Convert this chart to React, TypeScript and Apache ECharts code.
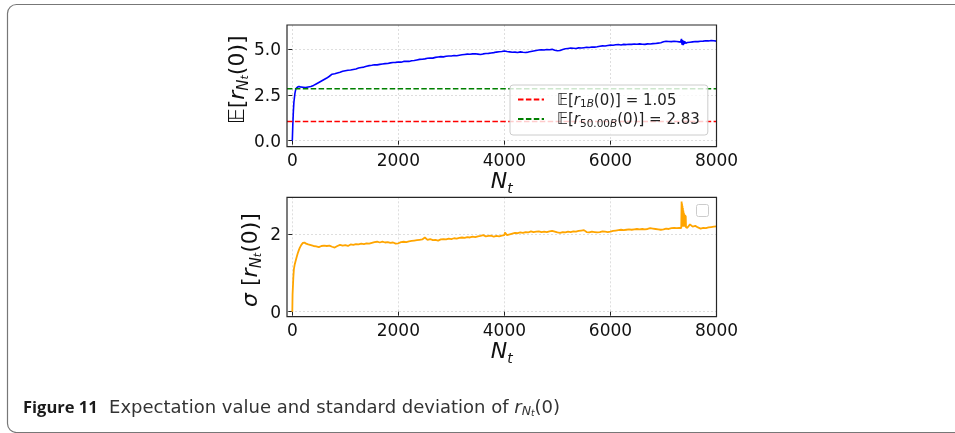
import React, { useEffect, useRef } from 'react';
import * as echarts from 'echarts';

// ---- data ----
const expN = [0, 10, 20, 30, 50, 65, 80, 100, 125, 150, 200, 250, 300,
  350, 400, 450, 500, 550, 600, 650, 700, 750, 800, 850, 900, 950, 1000,
  1050, 1100, 1150, 1200, 1250, 1300, 1350, 1400, 1450, 1500, 1550, 1600, 1650, 1700, 1750, 1800, 1850, 1900, 1950, 2000,
  2050, 2100, 2150, 2200, 2250, 2300, 2350, 2400, 2450, 2500, 2550, 2600, 2650, 2700, 2750, 2800, 2850, 2900, 2950, 3000,
  3050, 3100, 3150, 3200, 3250, 3300, 3350, 3400, 3450, 3500, 3550, 3600, 3650, 3700, 3750, 3800, 3850, 3900, 3950, 4000,
  4050, 4100, 4150, 4200, 4250, 4300, 4350, 4400, 4450, 4500, 4550, 4600, 4650, 4700, 4750, 4800, 4850, 4900, 4950, 5000,
  5050, 5100, 5150, 5200, 5250, 5300, 5350, 5400, 5450, 5500, 5550, 5600, 5650, 5700, 5750, 5800, 5850, 5900, 5950, 6000,
  6050, 6100, 6150, 6200, 6250, 6300, 6350, 6400, 6450, 6500, 6550, 6600, 6650, 6700, 6750, 6800, 6850, 6900, 6950, 7000,
  7050, 7100, 7150, 7200, 7250, 7300, 7320, 7340, 7350, 7360, 7370, 7380, 7390, 7400, 7420, 7450, 7500,
  7550, 7600, 7650, 7700, 7750, 7800, 7850, 7900, 7950, 8000];
const expVal = [0.0, 0.9, 1.6, 2.1, 2.6, 2.8, 2.88, 2.93, 2.96, 2.94, 2.92, 2.9, 2.93,
  2.96, 3.02, 3.10, 3.18, 3.26, 3.34, 3.42, 3.52, 3.63, 3.66, 3.70, 3.74, 3.79, 3.82,
  3.85, 3.86, 3.89, 3.92, 3.97, 4.00, 4.02, 4.07, 4.10, 4.12, 4.15, 4.14, 4.17, 4.19, 4.21, 4.22, 4.25, 4.27, 4.28, 4.30,
  4.29, 4.33, 4.34, 4.33, 4.37, 4.38, 4.41, 4.44, 4.45, 4.47, 4.50, 4.52, 4.51, 4.55, 4.57, 4.59, 4.58, 4.61, 4.63, 4.63,
  4.65, 4.64, 4.67, 4.69, 4.71, 4.73, 4.72, 4.74, 4.75, 4.73, 4.71, 4.74, 4.76, 4.77, 4.79, 4.81, 4.84, 4.86, 4.87, 4.90,
  4.87, 4.85, 4.83, 4.84, 4.82, 4.85, 4.83, 4.82, 4.84, 4.87, 4.90, 4.93, 4.95, 4.97, 4.95, 4.98, 4.97, 4.99, 4.94, 4.91,
  4.93, 4.98, 5.02, 5.04, 5.06, 5.05, 5.04, 5.07, 5.06, 5.08, 5.10, 5.09, 5.12, 5.11, 5.13, 5.16, 5.18, 5.17, 5.20, 5.22,
  5.21, 5.24, 5.25, 5.23, 5.26, 5.25, 5.27, 5.26, 5.28, 5.27, 5.29, 5.27, 5.26, 5.29, 5.28, 5.30, 5.31, 5.33, 5.35, 5.40,
  5.43, 5.42, 5.41, 5.43, 5.42, 5.40, 5.38, 5.56, 5.25, 5.50, 5.22, 5.45, 5.28, 5.42, 5.32, 5.36, 5.38,
  5.40, 5.42, 5.41, 5.43, 5.44, 5.46, 5.45, 5.47, 5.46, 5.44];

const sdN = [0, 5, 10, 20, 30, 45, 60, 80, 100, 120, 140, 170, 200, 230, 260, 300,
  350, 400, 450, 500, 550, 600, 650, 700, 750, 800, 850, 900, 950, 1000,
  1050, 1100, 1150, 1200, 1250, 1300, 1350, 1400, 1450, 1500, 1550, 1600, 1650, 1700, 1750, 1800, 1850, 1900, 1950, 2000,
  2050, 2100, 2150, 2200, 2250, 2300, 2350, 2400, 2450, 2500, 2550, 2600, 2650, 2700, 2750, 2800, 2850, 2900, 2950, 3000,
  3050, 3100, 3150, 3200, 3250, 3300, 3350, 3400, 3450, 3500, 3550, 3600, 3650, 3700, 3750, 3800, 3850, 3900, 3950, 4000,
  4010, 4050, 4100, 4150, 4200, 4250, 4300, 4350, 4400, 4450, 4500, 4550, 4600, 4650, 4700, 4750, 4800, 4850, 4900, 4950, 5000,
  5050, 5100, 5150, 5200, 5250, 5300, 5350, 5400, 5450, 5500, 5550, 5600, 5650, 5700, 5750, 5800, 5850, 5900, 5950, 6000,
  6050, 6100, 6150, 6200, 6250, 6300, 6350, 6400, 6450, 6500, 6550, 6600, 6650, 6700, 6750, 6800, 6850, 6900, 6950, 7000,
  7050, 7100, 7150, 7200, 7250, 7300, 7335, 7342, 7346, 7350, 7354, 7358, 7362, 7366, 7370, 7375, 7380, 7385, 7390, 7395,
  7400, 7405, 7410, 7415, 7420, 7425, 7450, 7500, 7550, 7600, 7650, 7700, 7750, 7800, 7850, 7900, 7950, 8000];
const sdVal = [0.0, 0.45, 0.6, 0.9, 1.1, 1.22, 1.3, 1.4, 1.5, 1.58, 1.65, 1.73, 1.78, 1.79, 1.76, 1.74,
  1.72, 1.70, 1.69, 1.67, 1.70, 1.71, 1.70, 1.71, 1.68, 1.66, 1.70, 1.73, 1.71, 1.72,
  1.70, 1.74, 1.73, 1.75, 1.74, 1.76, 1.75, 1.77, 1.76, 1.78, 1.80, 1.81, 1.79, 1.81, 1.79, 1.80, 1.78, 1.79, 1.76, 1.77,
  1.80, 1.81, 1.80, 1.82, 1.83, 1.84, 1.85, 1.86, 1.87, 1.92, 1.86, 1.88, 1.85, 1.86, 1.84, 1.87, 1.88, 1.87, 1.89, 1.88,
  1.90, 1.89, 1.91, 1.92, 1.91, 1.93, 1.92, 1.94, 1.93, 1.95, 1.96, 1.98, 1.95, 1.96, 1.97, 1.94, 1.96, 1.95, 1.97, 1.98,
  2.05, 1.98, 2.00, 2.02, 2.04, 2.03, 2.05, 2.04, 2.06, 2.05, 2.08, 2.06, 2.07, 2.08, 2.06, 2.07, 2.06, 2.08, 2.09, 2.07, 2.05,
  2.04, 2.06, 2.05, 2.07, 2.06, 2.08, 2.07, 2.09, 2.10, 2.11, 2.06, 2.05, 2.07, 2.06, 2.05, 2.06, 2.08, 2.07, 2.06, 2.07,
  2.09, 2.10, 2.11, 2.12, 2.11, 2.12, 2.13, 2.12, 2.13, 2.14, 2.13, 2.14, 2.13, 2.14, 2.16, 2.15, 2.14, 2.13, 2.12, 2.13,
  2.15, 2.14, 2.16, 2.17, 2.16, 2.17, 2.16, 2.85, 2.2, 2.80, 2.2, 2.74, 2.2, 2.68, 2.2, 2.62, 2.2, 2.56, 2.2, 2.52,
  2.2, 2.50, 2.22, 2.48, 2.46, 2.18, 2.17, 2.26, 2.20, 2.22, 2.18, 2.15, 2.17, 2.16, 2.18, 2.19, 2.20, 2.21];

const refLevels = [1.05, 2.83];
const refNames = ['r1B', 'r50B'];
const refLabels = ['1.05', '2.83'];
const refSubs = [['1', 'B'], ['50.00', 'B']];
const xTicks = [0, 2000, 4000, 6000, 8000];
const xGridTicks = [0, 2000, 4000, 6000];
const yTicksTop = [0, 2.5, 5];
const yTicksBottom = [0, 2];
const xRange = [-100, 8000];
const yRangeTop = [-0.33, 6.32];
const yRangeBottom = [-0.13, 2.96];

const F = 'DejaVu Sans';

const nameRich = {
  n: { fontSize: 22, fontFamily: F, lineHeight: 28, color: '#111' },
  i: { fontSize: 22, fontFamily: F, fontStyle: 'italic', lineHeight: 28, color: '#111' },
  s: { fontSize: 15, fontFamily: F, fontStyle: 'italic', lineHeight: 15, verticalAlign: 'bottom', color: '#111' },
  ss: { fontSize: 11, fontFamily: F, fontStyle: 'italic', lineHeight: 11, verticalAlign: 'bottom', color: '#111' },
};

const GRIDS = [
  { left: 287, top: 25, width: 429.5, height: 121.7 },
  { left: 287, top: 197.3, width: 429.5, height: 119.4 },
];

export default function App() {
  const ref = useRef<HTMLDivElement>(null);
  useEffect(() => {
    const chart = echarts.init(ref.current!, null, { renderer: 'svg' });
    const gridLine = { show: true, lineStyle: { color: '#d6d6d6', width: 0.8, type: [2, 2] as any } };
    const xAxisBase = (gridIndex: number) => ({
      type: 'value', gridIndex, min: xRange[0], max: xRange[1],
      axisLine: { show: false },
      axisTick: { show: true, customValues: xTicks, length: 4, lineStyle: { color: '#222', width: 1 } },
      axisLabel: { customValues: xTicks, fontSize: 17, fontFamily: F, color: '#111', margin: 5, formatter: (v: number) => String(v) },
      splitLine: { ...gridLine, customValues: xGridTicks },
      name: '{i|N}{ss|t}', nameLocation: 'middle', nameGap: 18,
      nameTextStyle: { rich: { i: nameRich.i, ss: { ...nameRich.s, fontSize: 14, lineHeight: 14 } } },
    });
    const yAxisBase = (gridIndex: number, range: number[], ticks: number[], fmt: (v: number) => string) => ({
      type: 'value', gridIndex, min: range[0], max: range[1],
      axisLine: { show: false },
      axisTick: { show: true, customValues: ticks, length: 4, lineStyle: { color: '#222', width: 1 } },
      axisLabel: { customValues: ticks, fontSize: 17, fontFamily: F, color: '#111', margin: 6, formatter: fmt },
      splitLine: { ...gridLine, customValues: ticks },
      nameLocation: 'middle',
    });
    const legendRich = {
      n: { fontSize: 15, fontFamily: F, lineHeight: 18, color: '#222' },
      i: { fontSize: 15, fontFamily: F, fontStyle: 'italic', lineHeight: 18, color: '#222' },
      s: { fontSize: 10.5, fontFamily: F, lineHeight: 10, verticalAlign: 'bottom', color: '#222' },
      si: { fontSize: 10.5, fontFamily: F, fontStyle: 'italic', lineHeight: 10, verticalAlign: 'bottom', color: '#222' },
    };
    const CF = 'DejaVu Sans';
    const option: any = {
      animation: false,
      grid: GRIDS.map((g) => ({ ...g, show: false })),
      xAxis: [xAxisBase(0), xAxisBase(1)],
      yAxis: [
        {
          ...yAxisBase(0, yRangeTop, yTicksTop, (v: number) => v.toFixed(1)),
          name: '{n|𝔼[}{i|r}{s|N}{ss|t}{n|(0)]}', nameGap: 34,
          nameTextStyle: { rich: nameRich, padding: [0, 0, 0, 12] },
        },
        {
          ...yAxisBase(1, yRangeBottom, yTicksBottom, (v: number) => String(v)),
          name: '{i|σ}{n| [}{i|r}{s|N}{ss|t}{n|(0)]}', nameGap: 24,
          nameTextStyle: { rich: nameRich, padding: [0, 6, 0, 0] },
        },
      ],
      legend: {
        data: refNames,
        left: 510, top: 85, orient: 'vertical',
        padding: [7, 8, 7, 7], itemGap: 3, itemWidth: 26, itemHeight: 14,
        backgroundColor: 'rgba(255,255,255,0.8)', borderColor: '#cccccc', borderWidth: 1, borderRadius: 3,
        itemStyle: { opacity: 0 },
        textStyle: { rich: legendRich, padding: [0, 0, 0, 8] },
        formatter: (name: string) => {
          const k = refNames.indexOf(name);
          return `{n|𝔼[}{i|r}{s|${refSubs[k][0]}}{si|${refSubs[k][1]}}{n|(0)] = ${refLabels[k]}}`;
        },
      },
      series: [
        {
          type: 'line', xAxisIndex: 0, yAxisIndex: 0, showSymbol: false, symbol: 'none',
          data: expN.map((n, i) => [n, expVal[i]]),
          lineStyle: { color: '#0000ff', width: 1.6 }, z: 2,
        },
        ...refLevels.map((lv, k) => ({
          type: 'line', name: refNames[k], xAxisIndex: 0, yAxisIndex: 0, showSymbol: false, symbol: 'none',
          data: [[xRange[0], lv], [xRange[1], lv]],
          color: k === 0 ? '#ff0000' : '#008000',
          lineStyle: { color: k === 0 ? '#ff0000' : '#008000', width: 1.5, type: [5.5, 2.4] }, z: 3,
        })),
        {
          type: 'line', xAxisIndex: 1, yAxisIndex: 1, showSymbol: false, symbol: 'none',
          data: sdN.map((n, i) => [n, sdVal[i]]),
          lineStyle: { color: '#ffa500', width: 1.8 }, z: 2,
        },
      ],
      graphic: [
        {
          type: 'rect', shape: { x: 7.5, y: 4.5, width: 965, height: 428, r: 9 },
          style: { fill: 'none', stroke: '#777', lineWidth: 1.2 }, silent: true,
        },
        ...GRIDS.map((g) => ({
          type: 'rect', z: 50, silent: true,
          shape: { x: g.left, y: g.top, width: g.width, height: g.height },
          style: { fill: 'none', stroke: '#262626', lineWidth: 1.2 },
        })),
        {
          type: 'rect', shape: { x: 696.5, y: 204.5, width: 12, height: 12, r: 2 },
          style: { fill: 'rgba(255,255,255,0.8)', stroke: '#cccccc', lineWidth: 1 }, z: 10,
        },
        {
          type: 'text', x: 23, y: 406,
          style: {
            text: '{b|Figure 11}{t|  Expectation value and standard deviation of }{i|r}{s|N}{ss|t}{t|(0)}',
            verticalAlign: 'middle',
            rich: {
              b: { fontSize: 16.5, fontFamily: 'Open Sans', fontWeight: 'bold', fill: '#1a1a1a', lineHeight: 22 },
              t: { fontSize: 18, fontFamily: CF, fill: '#333', lineHeight: 22 },
              i: { fontSize: 18, fontFamily: CF, fontStyle: 'italic', fill: '#333', lineHeight: 22 },
              s: { fontSize: 12.5, fontFamily: CF, fontStyle: 'italic', fill: '#333', lineHeight: 12, verticalAlign: 'bottom' },
              ss: { fontSize: 9, fontFamily: CF, fontStyle: 'italic', fill: '#333', lineHeight: 9, verticalAlign: 'bottom' },
            },
          },
        },
      ],
    };
    chart.setOption(option);
    return () => chart.dispose();
  }, []);
  return <div ref={ref} style={{ position: 'fixed', left: 0, top: 0, width: 955, height: 433 }} />;
}
